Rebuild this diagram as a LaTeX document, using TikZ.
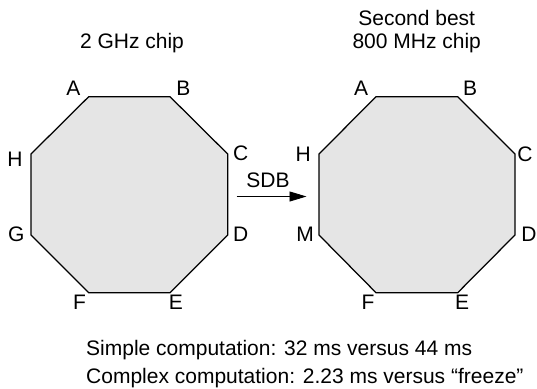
\documentclass[tikz,border=0pt]{standalone}
\usepackage{fontspec}
\setmainfont{Liberation Sans}
\usetikzlibrary{arrows.meta}
\definecolor{chipfill}{HTML}{E5E5E5}
\begin{document}
\begin{tikzpicture}[x=1pt,y=-1pt,
  txt/.style={inner sep=0pt,font=\fontsize{21}{26}\selectfont,text=black},
  lbl/.style={txt,anchor=center},
  chip/.style={draw=black,fill=chipfill,line width=1.25pt,line join=miter},
  sdbarrow/.style={line width=0.9pt,-{Triangle[length=17pt,width=10pt]}}]
\useasboundingbox (0,0) rectangle (537,388);
% left octagon
\coordinate (lA) at (88.7,96.7);
\coordinate (lB) at (170,96.7);
\coordinate (lC) at (227.7,154);
\coordinate (lD) at (227.7,235);
\coordinate (lE) at (170,292.7);
\coordinate (lF) at (88.7,292.7);
\coordinate (lG) at (31,235);
\coordinate (lH) at (31,154);
\draw[chip] (lA)--(lB)--(lC)--(lD)--(lE)--(lF)--(lG)--(lH)--cycle;
% right octagon
\coordinate (rA) at (376,96.7);
\coordinate (rB) at (457.7,96.7);
\coordinate (rC) at (515,154);
\coordinate (rD) at (515,235);
\coordinate (rE) at (457.7,292.7);
\coordinate (rF) at (376,292.7);
\coordinate (rM) at (319,235);
\coordinate (rH) at (319,154);
\draw[chip] (rA)--(rB)--(rC)--(rD)--(rE)--(rF)--(rM)--(rH)--cycle;
% left labels
\node[lbl] (tlA) at (73.3,88) {A};
\node[lbl] (tlB) at (183.3,88) {B};
\node[lbl] (tlC) at (240.7,153) {C};
\node[lbl] (tlD) at (240.7,234.5) {D};
\node[lbl] (tlE) at (176,302) {E};
\node[lbl] (tlF) at (79.5,302) {F};
\node[lbl] (tlG) at (16.3,234.5) {G};
\node[lbl] (tlH) at (15,159) {H};
% right labels
\node[lbl] (trA) at (361,88) {A};
\node[lbl] (trB) at (470,88) {B};
\node[lbl] (trC) at (525,154) {C};
\node[lbl] (trD) at (529,234.5) {D};
\node[lbl] (trE) at (462,302) {E};
\node[lbl] (trF) at (368,302) {F};
\node[lbl] (trM) at (305,234.5) {M};
\node[lbl] (trH) at (303.3,154) {H};
% arrow
\coordinate (arrS) at (236.7,196.5);
\coordinate (arrE) at (306.5,196.5);
\draw[sdbarrow] (arrS) -- (arrE);
\node[lbl] (sdb) at (268,180.5) {SDB};
% titles
\node[txt,anchor=base] (t1) at (132,48) {2 GHz chip};
\node[txt,anchor=base] (t2a) at (416.7,25) {Second best};
\node[txt,anchor=base] (t2b) at (416.7,48.5) {800 MHz chip};
% bottom text
\node[txt,anchor=base west] (b1) at (86,355) {Simple computation: 32 ms versus 44 ms};
\node[txt,anchor=base west] (b2) at (86,383) {Complex computation: 2.23 ms versus “freeze”};
\end{tikzpicture}
\end{document}
